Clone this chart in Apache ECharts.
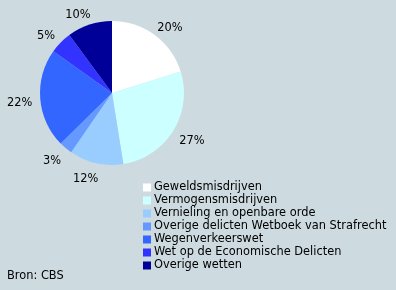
<!DOCTYPE html>
<html><head><meta charset="utf-8">
<script src="https://cdn.jsdelivr.net/npm/echarts@6/dist/echarts.min.js"></script>
<style>html,body{margin:0;padding:0;background:#cddbe0}#c{width:396px;height:290px}</style>
</head><body><div id="c"></div>
<script>
const categories = ["Geweldsmisdrijven","Vermogensmisdrijven","Vernieling en openbare orde","Overige delicten Wetboek van Strafrecht","Wegenverkeerswet","Wet op de Economische Delicten","Overige wetten"];
const values = [20, 27, 12, 3, 22, 5, 10];
const colors = ["#ffffff","#ccffff","#99ccff","#6699ff","#3366ff","#3333ff","#000099"];
const source = "Bron: CBS";
const font = "DejaVu Sans";
const chart = echarts.init(document.getElementById('c'), null, {renderer:'canvas'});
chart.setOption({
  backgroundColor: '#cddbe0',
  animation: false,
  color: colors,
  legend: {
    orient: 'vertical', left: 138, top: 177,
    itemWidth: 8, itemHeight: 8, itemGap: 2,
    icon: 'rect',
    textStyle: {fontFamily: font, fontSize: 11.4, color: '#000', padding:[0,0,0,-2]},
    itemStyle: {borderWidth: 0},
    data: categories
  },
  graphic: [{type:'text', left: 7, top: 271, style:{text: source, font: '11.4px "DejaVu Sans"', fill:'#000'}}],
  series: [{
    type: 'pie', center: [112, 93], radius: 72, startAngle: 90, clockwise: true,
    itemStyle: {borderWidth: 0},
    emphasis: {disabled: true},
    label: {show: true, position: 'outside', formatter: '{c}%', fontFamily: font, fontSize: 11.4, color: '#000', overflow: 'none'},
    labelLine: {show: false, length: 13, length2: 0},
    labelLayout: function (p) {
      const pts = p.labelLinePoints;
      if (!pts) return {};
      const sgn = pts[1][0] >= pts[0][0] ? 1 : -1;
      return {x: pts[1][0] + sgn * p.labelRect.width * 0.3, y: pts[1][1] + 3, align: 'center', verticalAlign: 'middle'};
    },
    data: categories.map((n,i)=>({name:n, value: values[i]}))
  }]
});
</script></body></html>
